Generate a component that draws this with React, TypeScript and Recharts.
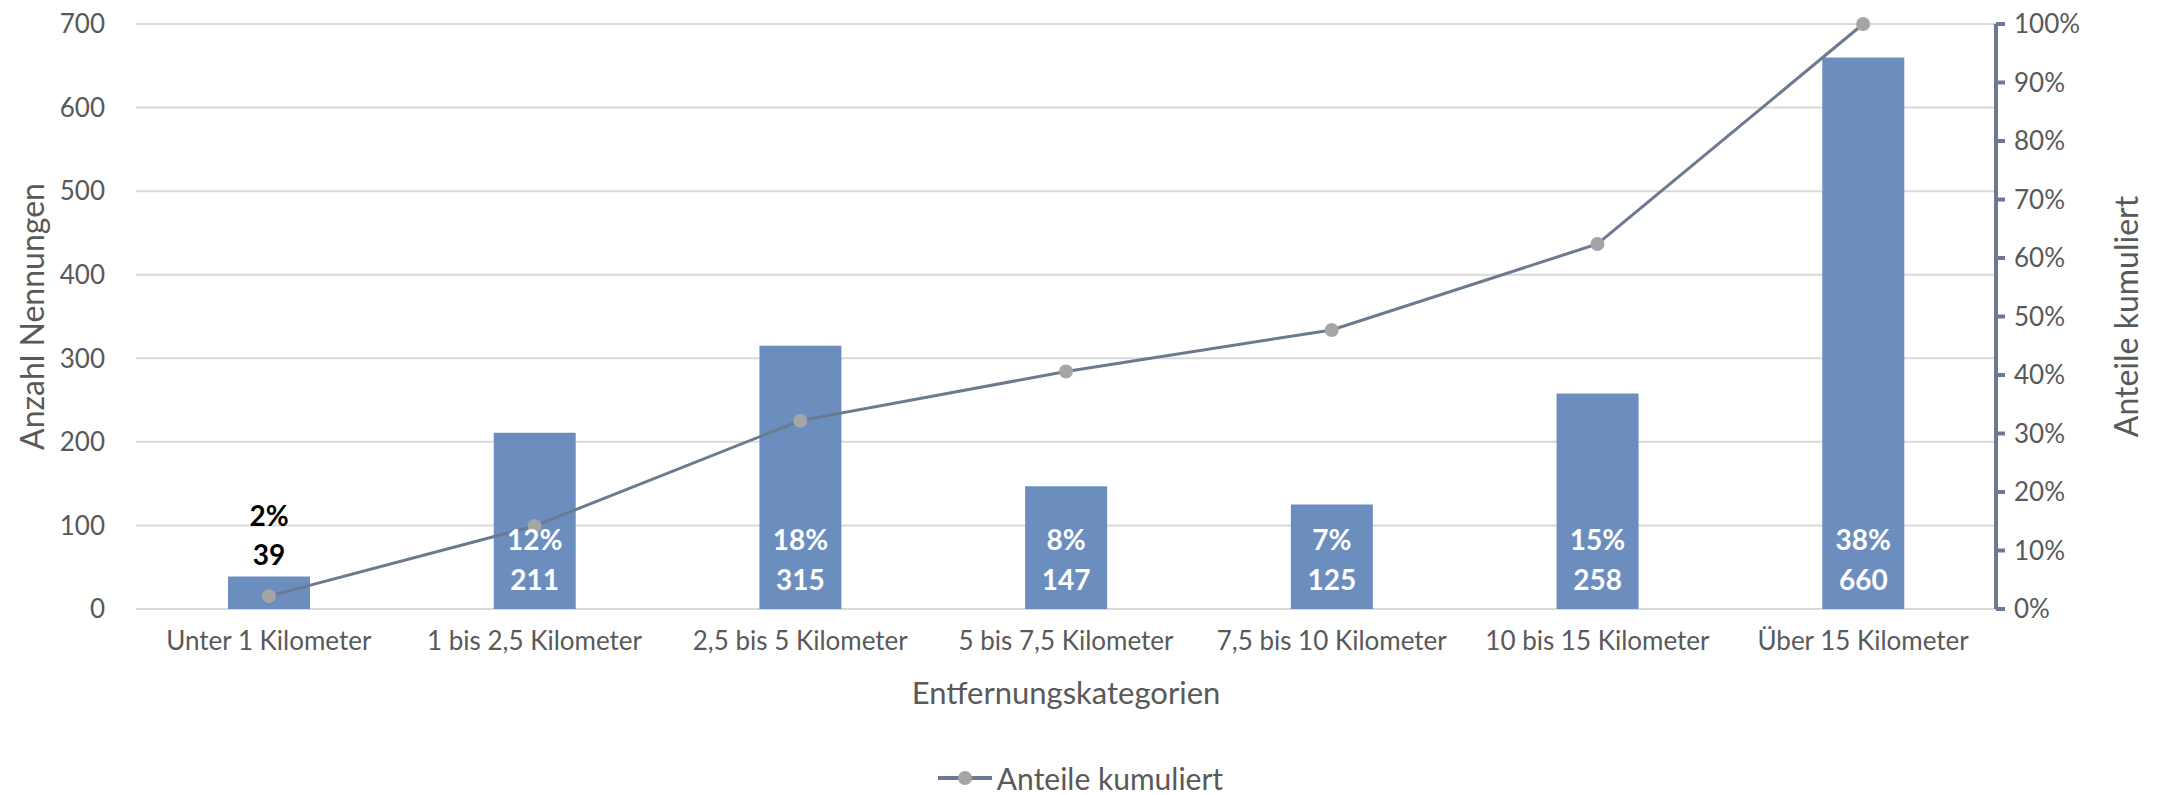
import React from "react";
import {
  ComposedChart,
  Bar,
  Line,
  XAxis,
  YAxis,
  CartesianGrid,
  Legend,
  LabelList,
} from "recharts";

// Values.
const categories = [
  "Unter 1 Kilometer",
  "1 bis 2,5 Kilometer",
  "2,5 bis 5 Kilometer",
  "5 bis 7,5 Kilometer",
  "7,5 bis 10 Kilometer",
  "10 bis 15 Kilometer",
  "Über 15 Kilometer",
];
const counts = [39, 211, 315, 147, 125, 258, 660];
const shares = [2, 12, 18, 8, 7, 15, 38];
const cumulative = [2.2, 14.2, 32.2, 40.6, 47.7, 62.4, 100];
const leftTicks = [0, 100, 200, 300, 400, 500, 600, 700];
const rightTicks = [0, 10, 20, 30, 40, 50, 60, 70, 80, 90, 100];

const data = categories.map((name, i) => ({
  name,
  count: counts[i],
  share: shares[i],
  cumulative: cumulative[i],
}));

const BAR_COLOR = "#6c8ebf";
const LINE_COLOR = "#6b7a8f";
const DOT_COLOR = "#a5a5a5";
const TEXT_COLOR = "#595959";
const GRID_COLOR = "#d9d9d9";
const FONT = "Lato, 'Open Sans', sans-serif";

// Two-line label: share on top, count below. Short bars get it above, in black.
function BarLabel(props: any) {
  const { x, y, width, height, index } = props;
  const cx = x + width / 2;
  const inside = height > 90;
  const fill = inside ? "#ffffff" : "#000000";
  const lower = inside ? y + height - 30 : y - 22;
  const upper = inside ? y + height - 70 : y - 61;
  const style = { fontSize: 28, fontWeight: 700, fontFamily: FONT };
  return (
    <g>
      <text x={cx} y={upper} fill={fill} textAnchor="middle" dominantBaseline="central" style={style}>
        {`${shares[index]}%`}
      </text>
      <text x={cx} y={lower} fill={fill} textAnchor="middle" dominantBaseline="central" style={style}>
        {counts[index]}
      </text>
    </g>
  );
}

function LegendContent() {
  return (
    <div
      style={{
        height: 60,
        display: "flex",
        justifyContent: "center",
        alignItems: "flex-end",
        fontFamily: FONT,
      }}
    >
      <div style={{ display: "flex", alignItems: "center", height: 34 }}>
        <svg width={56} height={20} style={{ marginRight: 4 }}>
          <line x1={1} y1={10} x2={55} y2={10} stroke={LINE_COLOR} strokeWidth={4} />
          <circle cx={28} cy={10} r={7} fill={DOT_COLOR} />
        </svg>
        <span style={{ fontSize: 30, color: TEXT_COLOR }}>Anteile kumuliert</span>
      </div>
    </div>
  );
}

export default function App() {
  return (
    <div style={{ position: "absolute", left: 0, top: 0, fontFamily: FONT, background: "#fff" }}>
      <ComposedChart
        width={2160}
        height={795}
        data={data}
        margin={{ top: 24, right: 0, left: 0, bottom: 0 }}
      >
        <CartesianGrid
          yAxisId="left"
          vertical={false}
          stroke={GRID_COLOR}
          strokeWidth={2}
        />
        <XAxis
          dataKey="name"
          height={126}
          axisLine={false}
          tickLine={false}
          tickSize={0}
          tickMargin={23}
          tick={{ fontSize: 26, fill: TEXT_COLOR }}
          interval={0}
          label={{
            value: "Entfernungskategorien",
            position: "center",
            dy: 21,
            fill: TEXT_COLOR,
            fontSize: 31,
          }}
        />
        <YAxis
          yAxisId="left"
          width={136}
          domain={[0, 700]}
          ticks={leftTicks}
          axisLine={false}
          tickLine={false}
          tickSize={0}
          tickMargin={31}
          tick={{ fontSize: 26, fill: TEXT_COLOR }}
          label={{
            value: "Anzahl Nennungen",
            angle: -90,
            position: "center",
            dx: -35,
            fill: TEXT_COLOR,
            fontSize: 32,
          }}
        />
        <YAxis
          yAxisId="right"
          orientation="right"
          width={164}
          domain={[0, 100]}
          ticks={rightTicks}
          tickFormatter={(v) => `${v}%`}
          axisLine={{ stroke: LINE_COLOR, strokeWidth: 4 }}
          tickLine={{ stroke: LINE_COLOR, strokeWidth: 4 }}
          tickSize={9}
          tickMargin={9}
          tick={{ fontSize: 26, fill: TEXT_COLOR }}
          label={{
            value: "Anteile kumuliert",
            angle: -90,
            position: "center",
            dx: 49,
            fill: TEXT_COLOR,
            fontSize: 32,
          }}
        />
        <Legend verticalAlign="bottom" height={60} content={<LegendContent />} />
        <Bar
          yAxisId="left"
          dataKey="count"
          fill={BAR_COLOR}
          barSize={82}
          isAnimationActive={false}
          legendType="none"
        >
          <LabelList dataKey="count" content={<BarLabel />} />
        </Bar>
        <Line
          yAxisId="right"
          dataKey="cumulative"
          type="linear"
          stroke={LINE_COLOR}
          strokeWidth={3}
          dot={{ r: 7, fill: DOT_COLOR, stroke: "none" }}
          activeDot={false}
          isAnimationActive={false}
        />
      </ComposedChart>
    </div>
  );
}
